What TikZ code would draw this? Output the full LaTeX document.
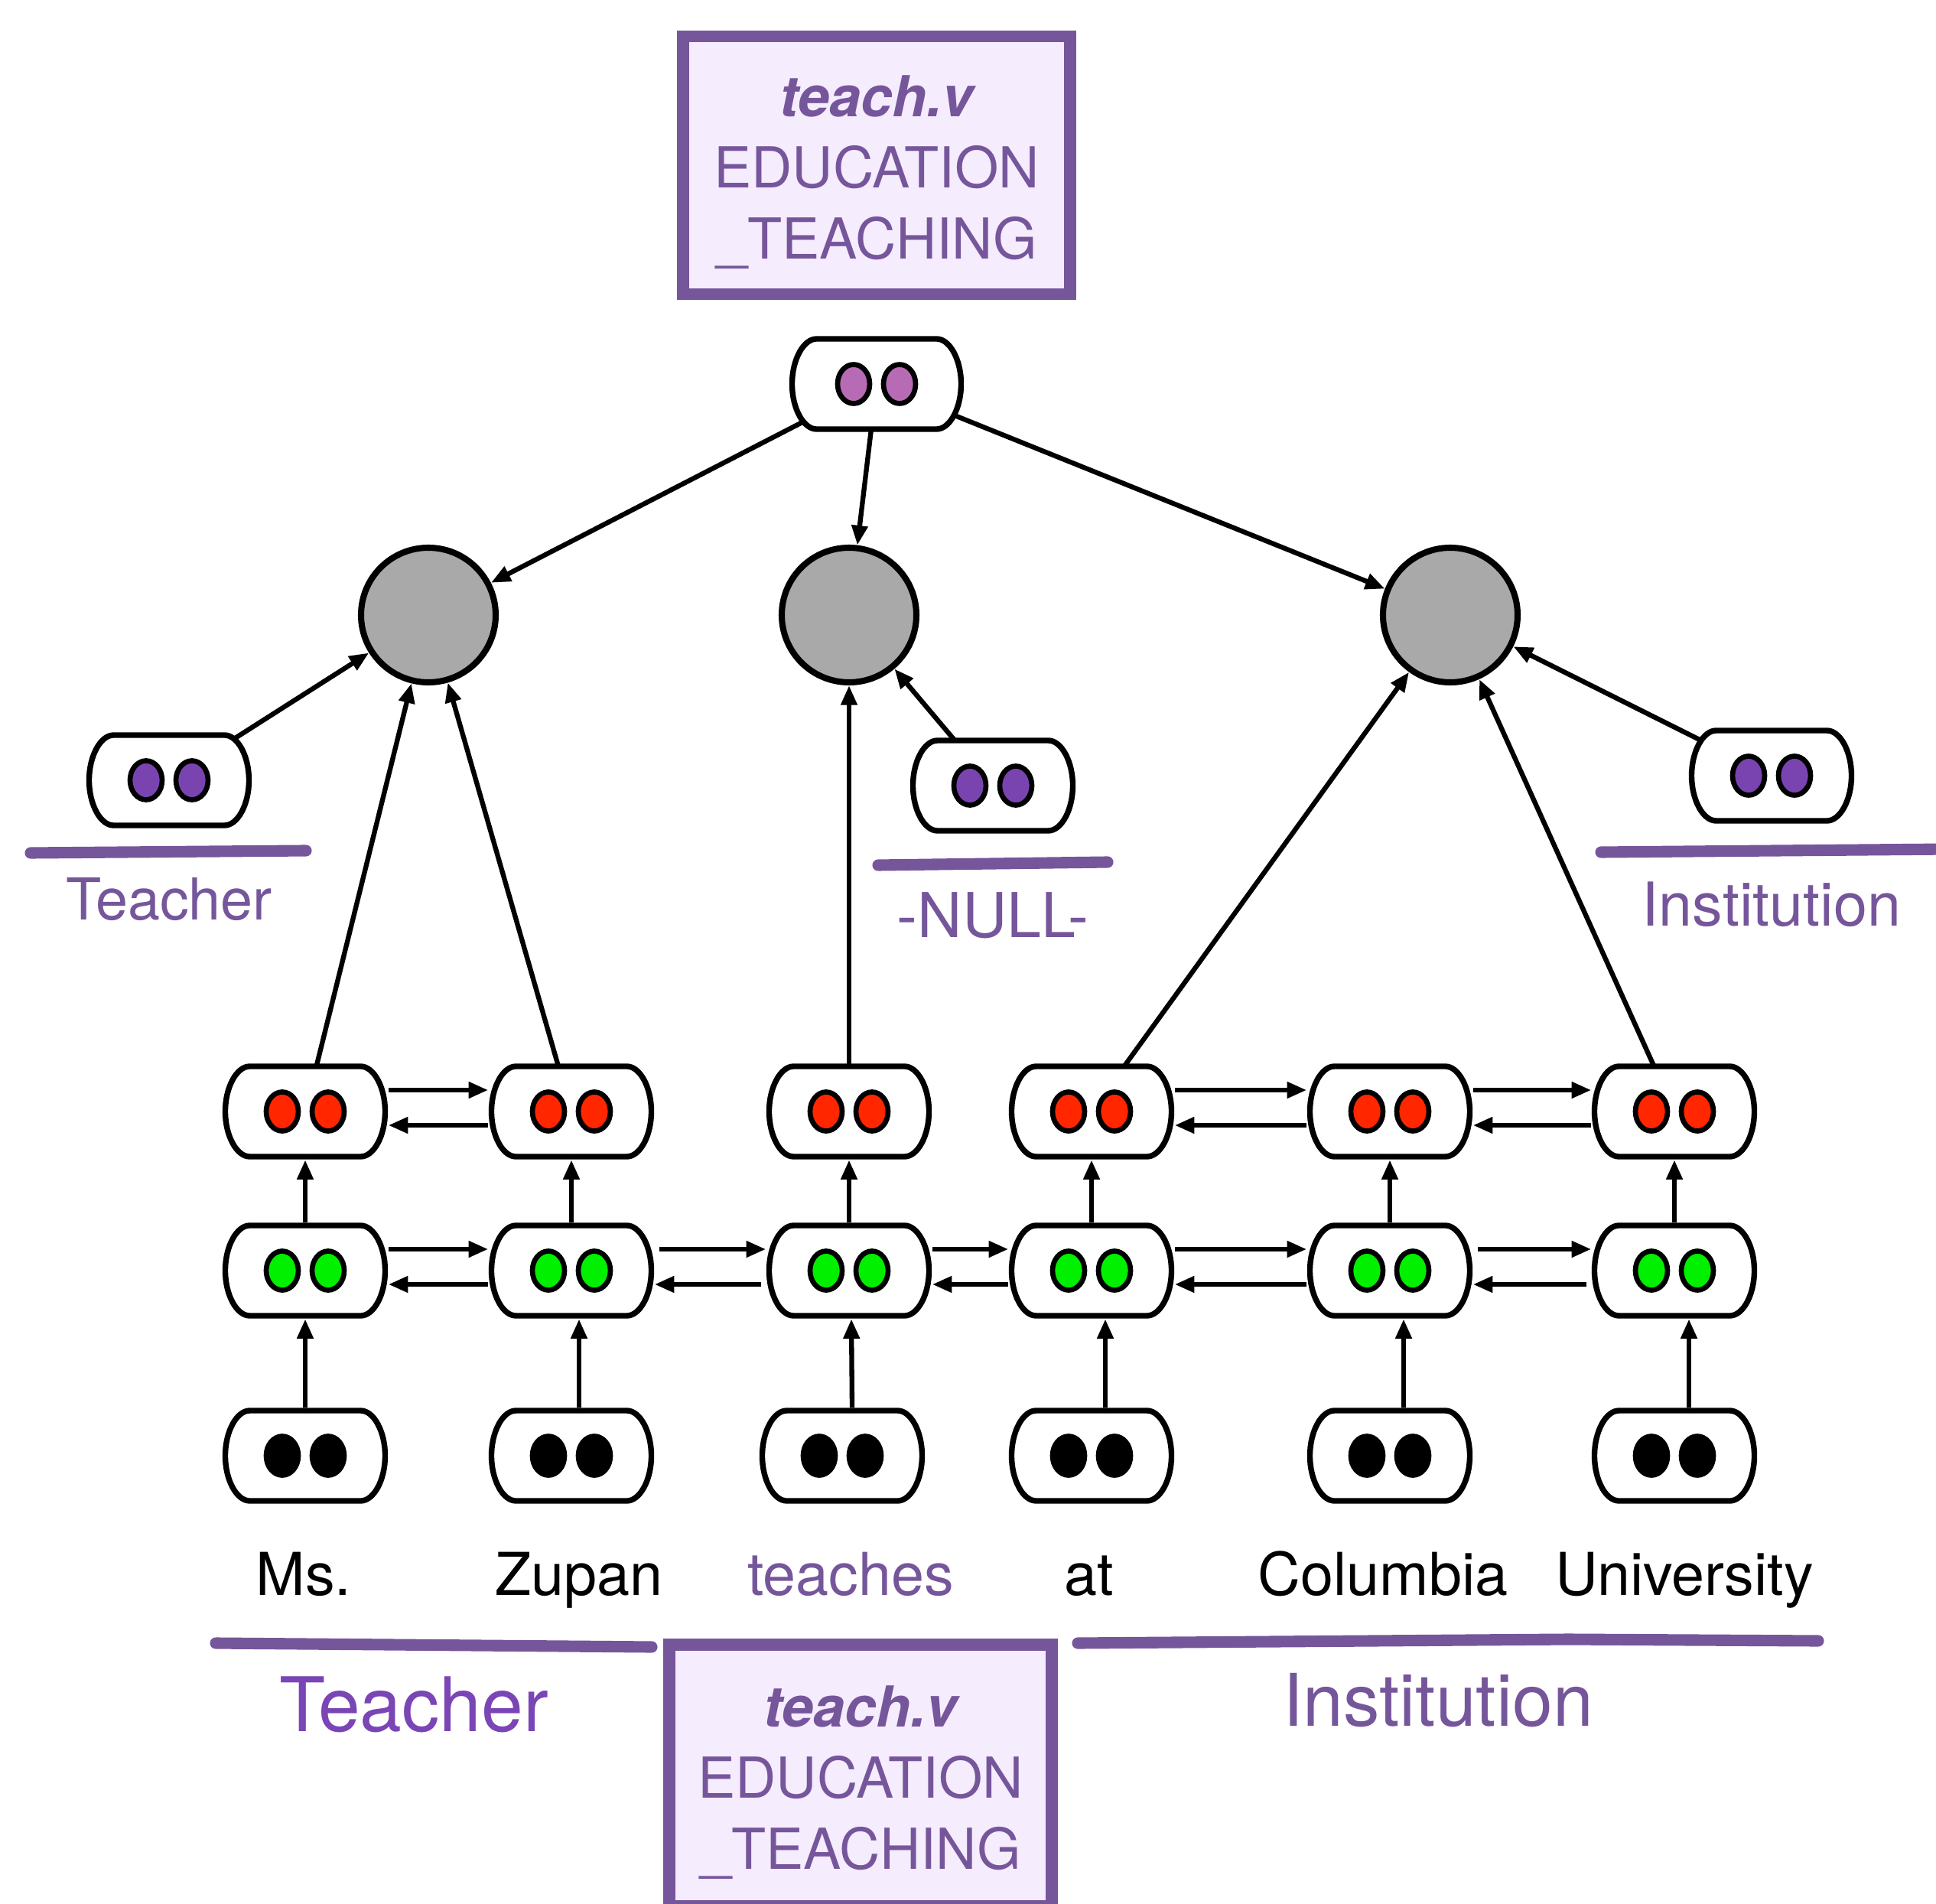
\documentclass[tikz,border=0pt]{standalone}
\usepackage{fontspec}
\setmainfont{TeX Gyre Heros}
\usetikzlibrary{arrows.meta, calc}

\definecolor{framepurple}{HTML}{76569B}
\definecolor{framefill}{HTML}{F5ECFD}
\definecolor{rolepurple}{HTML}{7A44B0}
\definecolor{teachpurple}{HTML}{7A45B5}
\definecolor{predpink}{HTML}{B86BB5}
\definecolor{hidred}{HTML}{FF2600}
\definecolor{hidgreen}{HTML}{00F000}
\definecolor{argray}{HTML}{A9A9A9}

% pill outline round a node with two dots: node, half width, colour
\newcommand{\pillat}[3]{%
  \begin{scope}[shift={(#1.center)}]
    \draw[line width=2.1pt, fill=white] (-#2+0.32,0.59) -- (#2-0.32,0.59)
      .. controls (#2-0.15,0.59) and (#2,0.32) .. (#2,0)
      .. controls (#2,-0.32) and (#2-0.15,-0.59) .. (#2-0.32,-0.59)
      -- (-#2+0.32,-0.59)
      .. controls (-#2+0.15,-0.59) and (-#2,-0.32) .. (-#2,0)
      .. controls (-#2,0.32) and (-#2+0.15,0.59) .. (-#2+0.32,0.59) -- cycle;
    \draw[line width=1.9pt, fill=#3] (-0.30,0) ellipse [x radius=0.21, y radius=0.255];
    \draw[line width=1.9pt, fill=#3] (0.30,0) ellipse [x radius=0.21, y radius=0.255];
  \end{scope}}

\begin{document}
\begin{tikzpicture}[
  pill/.style={rectangle, minimum width=2.16cm, minimum height=1.25cm, inner sep=0pt},
  argcircle/.style={draw, circle, line width=2.3pt, fill=argray, minimum size=1.76cm, inner sep=0pt},
  framebox/.style={draw=framepurple, fill=framefill, line width=4.3pt, minimum width=5.06cm, minimum height=3.37cm},
  frametext/.style={align=center, inner sep=0pt, text=framepurple, font=\fontsize{21}{26.5}\selectfont},
  word/.style={anchor=base, inner sep=0pt, font=\fontsize{22}{26}\selectfont},
  rolelabel/.style={anchor=base, inner sep=0pt, text=framepurple, font=\fontsize{21.5}{26}\selectfont},
  spanlabel/.style={anchor=base, inner sep=0pt, text=framepurple, font=\fontsize{27}{32}\selectfont},
  spanline/.style={framepurple, line width=4.3pt, line cap=round},
  arr/.style={-{Triangle[length=7.3pt, width=5.8pt]}, line width=1.8pt}
]
\useasboundingbox (0,0) rectangle (25.31,-24.89);

% ----- Frame on top -----
\node[framebox] (topframe) at (11.46,-2.16) {};
\node[frametext] (toptext) at ([yshift=-0.09cm]topframe.center) {{\bfseries\itshape teach.v}\\EDUCATION\\\_TEACHING};
\node[pill, minimum width=2.28cm] (pred) at (11.46,-5.02) {};

% ----- Argument circles -----
\node[argcircle] (argL) at (5.60,-8.04) {};
\node[argcircle] (argM) at (11.10,-8.04) {};
\node[argcircle] (argR) at (18.96,-8.04) {};

% ----- Role pills -----
\node[pill] (roleT) at (2.21,-10.20) {};
\node[pill] (roleN) at (12.98,-10.27) {};
\node[pill] (roleI) at (23.16,-10.14) {};

\draw[spanline] (0.40,-11.15) -- (4.00,-11.12);
\draw[spanline] (11.48,-11.31) -- (14.48,-11.27);
\draw[spanline] (20.93,-11.14) -- (25.50,-11.10);

\node[rolelabel] (labT) at (2.21,-12.02) {Teacher};
\node[rolelabel, font=\fontsize{23}{26}\selectfont] (labN) at (12.98,-12.25) {-NULL-};
\node[rolelabel, font=\fontsize{22.5}{26}\selectfont] (labI) at (23.16,-12.10) {Institution};

% ----- Upper hidden layer (y = -14.53) -----
\node[pill] (r1) at (3.99,-14.53) {};
\node[pill] (r2) at (7.47,-14.53) {};
\node[pill] (r3) at (11.10,-14.53) {};
\node[pill] (r4) at (14.27,-14.53) {};
\node[pill] (r5) at (18.17,-14.53) {};
\node[pill] (r6) at (21.89,-14.53) {};

% ----- Lower hidden layer (y = -16.61) -----
\node[pill] (g1) at (3.99,-16.61) {};
\node[pill] (g2) at (7.47,-16.61) {};
\node[pill] (g3) at (11.10,-16.61) {};
\node[pill] (g4) at (14.27,-16.61) {};
\node[pill] (g5) at (18.17,-16.61) {};
\node[pill] (g6) at (21.89,-16.61) {};

% ----- Word embeddings (y = -19.03) -----
\node[pill] (b1) at (3.99,-19.03) {};
\node[pill] (b2) at (7.47,-19.03) {};
\node[pill] (b3) at (11.01,-19.03) {};
\node[pill] (b4) at (14.27,-19.03) {};
\node[pill] (b5) at (18.17,-19.03) {};
\node[pill] (b6) at (21.89,-19.03) {};

% ----- Words -----
\node[word] (w1) at (3.97,-20.85) {Ms.};
\node[word] (w2) at (7.57,-20.85) {Zupan};
\node[word, text=framepurple] (w3) at (11.12,-20.85) {teaches};
\node[word] (w4) at (14.24,-20.85) {at};
\node[word] (w5) at (18.08,-20.85) {Columbia};
\node[word] (w6) at (22.02,-20.85) {University};

% ----- Spans under the sentence -----
\draw[spanline] (2.82,-21.48) -- (8.52,-21.53);
\draw[spanline] (14.09,-21.48) -- (20.50,-21.43) -- (23.77,-21.45);
\node[spanlabel, text=teachpurple, font=\fontsize{28}{32}\selectfont] (spanT) at (5.41,-22.63) {Teacher};
\node[spanlabel] (spanI) at (18.80,-22.56) {Institution};
\node[framebox, minimum width=5.0cm, minimum height=3.42cm] (botframe) at (11.25,-23.21) {};
\node[frametext] (bottext) at ([yshift=-0.09cm]botframe.center) {{\bfseries\itshape teach.v}\\EDUCATION\\\_TEACHING};

% ----- Frame to arguments -----
\draw[arr] (pred.center) -- (argL);
\draw[arr] (pred.center) -- (argM);
\draw[arr] (pred.center) -- (argR);
\draw[arr] (roleT.center) -- (argL);
\draw[arr] (roleN.center) -- (argM);
\draw[arr] (roleI.center) -- (argR);

% ----- Words to arguments -----
\draw[arr] (r1.center) -- (argL);
\draw[arr] (r2.center) -- (argL);
\draw[arr] (r3.center) -- (argM);
\draw[arr] (r4.center) -- (argR);
\draw[arr] (r6.center) -- (argR);

% ----- Between layers -----
\draw[arr] (g1) -- (r1);
\draw[arr] (g2) -- (r2);
\draw[arr] (g3) -- (r3);
\draw[arr] (g4) -- (r4);
\draw[arr] (g5) -- (r5);
\draw[arr] (g6) -- (r6);
\draw[arr] (b1.north) -- (g1.south);
\draw[arr] ([xshift=0.10cm]b2.north) -- ([xshift=0.10cm]g2.south);
\draw[arr] ([xshift=0.13cm]b3.north) -- ([xshift=0.03cm]g3.south);
\draw[arr] ([xshift=0.18cm]b4.north) -- ([xshift=0.18cm]g4.south);
\draw[arr] ([xshift=0.18cm]b5.north) -- ([xshift=0.18cm]g5.south);
\draw[arr] ([xshift=0.19cm]b6.north) -- ([xshift=0.19cm]g6.south);

% ----- Left and right links -----
\draw[arr] ([yshift=0.28cm]r1.east) -- ([yshift=0.28cm]r2.west);
\draw[arr] ([yshift=-0.18cm]r2.west) -- ([yshift=-0.18cm]r1.east);
\draw[arr] ([yshift=0.28cm]r4.east) -- ([yshift=0.28cm]r5.west);
\draw[arr] ([yshift=-0.18cm]r5.west) -- ([yshift=-0.18cm]r4.east);
\draw[arr] ([yshift=0.28cm]r5.east) -- ([yshift=0.28cm]r6.west);
\draw[arr] ([yshift=-0.18cm]r6.west) -- ([yshift=-0.18cm]r5.east);
\draw[arr] ([yshift=0.28cm]g1.east) -- ([yshift=0.28cm]g2.west);
\draw[arr] ([yshift=-0.18cm]g2.west) -- ([yshift=-0.18cm]g1.east);
\draw[arr] ([xshift=0.06cm, yshift=0.28cm]g2.east) -- ([yshift=0.28cm]g3.west);
\draw[arr] ([xshift=-0.06cm, yshift=-0.18cm]g3.west) -- ([yshift=-0.18cm]g2.east);
\draw[arr] ([yshift=0.28cm]g3.east) -- ([yshift=0.28cm]g4.west);
\draw[arr] ([yshift=-0.18cm]g4.west) -- ([yshift=-0.18cm]g3.east);
\draw[arr] ([yshift=0.28cm]g4.east) -- ([yshift=0.28cm]g5.west);
\draw[arr] ([yshift=-0.18cm]g5.west) -- ([yshift=-0.18cm]g4.east);
\draw[arr] ([xshift=0.06cm, yshift=0.28cm]g5.east) -- ([yshift=0.28cm]g6.west);
\draw[arr] ([xshift=-0.06cm, yshift=-0.18cm]g6.west) -- ([yshift=-0.18cm]g5.east);

% ----- Pill outlines and dots, over the connectors -----
\pillat{pred}{1.105}{predpink}
\foreach \n in {roleT,roleN,roleI} {\pillat{\n}{1.045}{rolepurple}}
\foreach \n in {r1,r2,r3,r4,r5,r6} {\pillat{\n}{1.045}{hidred}}
\foreach \n in {g1,g2,g3,g4,g5,g6} {\pillat{\n}{1.045}{hidgreen}}
\foreach \n in {b1,b2,b3,b4,b5,b6} {\pillat{\n}{1.045}{black}}

\end{tikzpicture}
\end{document}
